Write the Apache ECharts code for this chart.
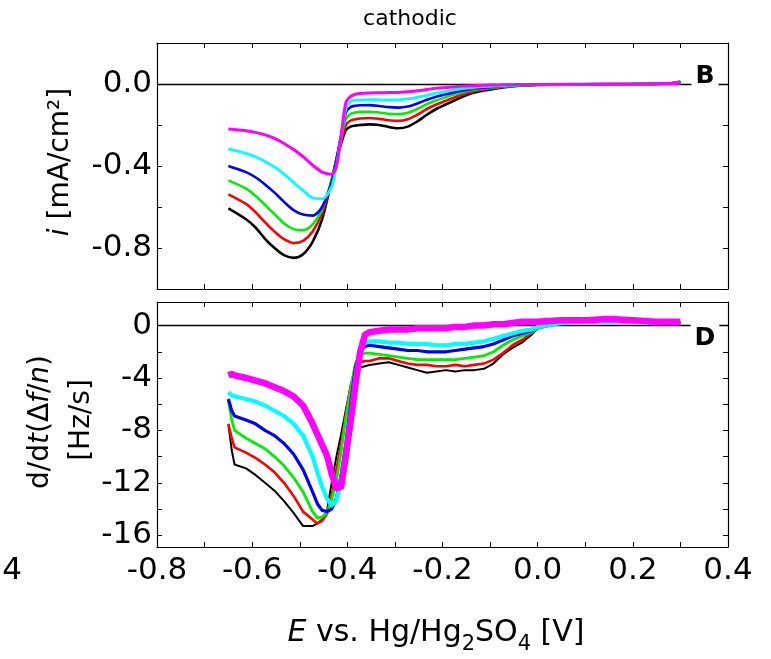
<!DOCTYPE html>
<html><head><meta charset="utf-8">
<script src="https://cdn.jsdelivr.net/npm/echarts@6/dist/echarts.min.js"></script>
<style>html,body{margin:0;padding:0;background:#fff}#c{width:771px;height:659px}</style>
</head><body><div id="c"></div>
<script>
// ---------- Top panel (i vs E) ----------
const E_TOP = [-0.65, -0.613, -0.593, -0.573, -0.553, -0.533, -0.513, -0.493, -0.473, -0.453, -0.433,
  -0.423, -0.413, -0.403, -0.393, -0.383, -0.373,
  -0.353, -0.333, -0.313, -0.293, -0.273, -0.253, -0.233, -0.213, -0.193, -0.173, -0.153, -0.133, -0.113, -0.093, -0.073,
  -0.045, 0.0, 0.1, 0.2, 0.28, 0.30];
const I_BLACK = [-0.607, -0.66, -0.70, -0.755, -0.80, -0.835, -0.848, -0.83, -0.77, -0.66, -0.47,
  -0.37, -0.29, -0.225, -0.208, -0.203, -0.200,
  -0.197, -0.200, -0.210, -0.216, -0.208, -0.183, -0.150, -0.122, -0.100, -0.078, -0.058, -0.042, -0.032, -0.024, -0.017,
  -0.010, -0.005, -0.002, 0.0, 0.004, 0.012];
const I_RED = [-0.538, -0.585, -0.625, -0.675, -0.72, -0.757, -0.776, -0.765, -0.72, -0.63, -0.47,
  -0.37, -0.28, -0.20, -0.178, -0.172, -0.168,
  -0.166, -0.170, -0.177, -0.180, -0.172, -0.150, -0.122, -0.100, -0.082, -0.063, -0.047, -0.035, -0.027, -0.020, -0.014,
  -0.008, -0.004, -0.002, 0.0, 0.004, 0.010];
const I_GREEN = [-0.47, -0.51, -0.545, -0.59, -0.635, -0.68, -0.708, -0.713, -0.685, -0.61, -0.47,
  -0.37, -0.26, -0.17, -0.145, -0.139, -0.136,
  -0.135, -0.139, -0.145, -0.147, -0.140, -0.122, -0.098, -0.080, -0.064, -0.049, -0.037, -0.028, -0.022, -0.017, -0.012,
  -0.007, -0.004, -0.002, 0.0, 0.003, 0.008];
const I_BLUE = [-0.40, -0.43, -0.455, -0.49, -0.53, -0.575, -0.615, -0.637, -0.642, -0.60, -0.48,
  -0.37, -0.25, -0.14, -0.112, -0.106, -0.104,
  -0.103, -0.107, -0.113, -0.115, -0.110, -0.095, -0.077, -0.062, -0.050, -0.039, -0.030, -0.023, -0.018, -0.014, -0.010,
  -0.006, -0.003, -0.001, 0.0, 0.003, 0.008];
const I_CYAN = [-0.316, -0.338, -0.355, -0.378, -0.405, -0.44, -0.48, -0.52, -0.555, -0.56, -0.50,
  -0.40, -0.26, -0.12, -0.085, -0.079, -0.077,
  -0.076, -0.077, -0.078, -0.077, -0.073, -0.065, -0.055, -0.045, -0.036, -0.028, -0.021, -0.016, -0.013, -0.010, -0.008,
  -0.005, -0.003, -0.001, 0.0, 0.003, 0.007];
const I_MAGENTA = [-0.22, -0.228, -0.236, -0.248, -0.265, -0.29, -0.32, -0.355, -0.395, -0.43, -0.44,
  -0.40, -0.25, -0.09, -0.060, -0.050, -0.046,
  -0.044, -0.043, -0.042, -0.041, -0.038, -0.033, -0.027, -0.021, -0.017, -0.013, -0.010, -0.008, -0.006, -0.005, -0.004,
  -0.003, -0.002, -0.001, 0.0, 0.002, 0.005];

// ---------- Bottom panel (d/dt(Δf/n) vs E) ----------
const E_BOT = [-0.65, -0.643, -0.637, -0.613, -0.593, -0.573, -0.553, -0.533, -0.513, -0.493, -0.473,
  -0.463, -0.453, -0.443, -0.433, -0.423, -0.413, -0.403, -0.393, -0.383, -0.373, -0.363, -0.353,
  -0.333, -0.313, -0.293, -0.273, -0.253, -0.233, -0.213, -0.193, -0.173, -0.153, -0.133, -0.113, -0.093, -0.073, -0.053, -0.033, -0.013, 0.0,
  0.05, 0.10, 0.15, 0.20, 0.25, 0.30];
const F_BLACK = [-7.5, -9.5, -10.6, -10.9, -11.4, -12.0, -12.6, -13.4, -14.3, -15.3, -15.3,
  -15.1, -14.8, -14.2, -12.0, -10.0, -8.3, -6.4, -4.6, -3.6, -3.2, -3.1, -3.0,
  -2.9, -2.8, -3.0, -3.2, -3.4, -3.6, -3.5, -3.4, -3.5, -3.4, -3.4, -3.3, -2.9, -2.2, -1.7, -1.3, -0.7, -0.2,
  0.2, 0.3, 0.3, 0.3, 0.2, 0.2];
const F_RED = [-7.5, -8.6, -9.3, -9.7, -10.1, -10.6, -11.2, -12.0, -13.0, -14.2, -14.8,
  -15.1, -14.9, -14.4, -13.0, -11.0, -9.0, -6.8, -4.6, -3.3, -2.8, -2.7, -2.7,
  -2.5, -2.5, -2.7, -2.9, -3.0, -3.0, -3.1, -3.1, -3.0, -3.1, -3.0, -2.9, -2.6, -2.1, -1.5, -1.1, -0.6, -0.2,
  0.2, 0.3, 0.3, 0.3, 0.2, 0.2];
const F_GREEN = [-5.7, -7.2, -8.0, -8.6, -9.0, -9.4, -10.0, -10.7, -11.6, -12.7, -14.2,
  -14.7, -14.6, -14.3, -13.3, -11.8, -9.6, -7.0, -4.8, -2.9, -2.3, -2.1, -2.1,
  -2.2, -2.3, -2.4, -2.5, -2.6, -2.6, -2.6, -2.6, -2.6, -2.5, -2.4, -2.3, -2.0, -1.5, -1.1, -0.8, -0.5, -0.2,
  0.2, 0.3, 0.3, 0.3, 0.2, 0.2];
const F_BLUE = [-5.6, -6.5, -6.9, -7.2, -7.5, -8.0, -8.4, -9.0, -9.8, -11.0, -12.7,
  -13.6, -14.1, -14.2, -14.0, -13.2, -11.4, -9.0, -6.0, -3.2, -1.9, -1.6, -1.5,
  -1.6, -1.7, -1.8, -1.9, -1.9, -2.0, -2.0, -2.0, -1.9, -1.8, -1.7, -1.6, -1.4, -1.1, -0.8, -0.6, -0.4, -0.1,
  0.2, 0.3, 0.3, 0.3, 0.2, 0.2];
const F_CYAN = [-5.1, -5.3, -5.4, -5.6, -5.8, -6.1, -6.5, -6.9, -7.5, -8.4, -10.0,
  -11.2, -12.3, -13.2, -13.7, -13.4, -11.8, -9.8, -7.2, -4.0, -1.7, -1.3, -1.2,
  -1.2, -1.3, -1.3, -1.4, -1.4, -1.4, -1.5, -1.5, -1.4, -1.4, -1.3, -1.2, -1.0, -0.8, -0.6, -0.4, -0.3, -0.1,
  0.2, 0.3, 0.3, 0.3, 0.2, 0.2];
const F_MAGENTA = [-3.8, -3.7, -3.8, -4.0, -4.2, -4.4, -4.7, -5.0, -5.4, -6.1, -7.5,
  -8.3, -9.1, -9.9, -11.3, -12.4, -12.3, -9.9, -7.3, -4.5, -2.0, -0.7, -0.5,
  -0.4, -0.3, -0.3, -0.3, -0.2, -0.2, -0.2, -0.2, -0.1, -0.1, 0.0, 0.0, 0.1, 0.1, 0.2, 0.3, 0.3, 0.3,
  0.4, 0.4, 0.5, 0.4, 0.3, 0.3];

// ---------- Axes / ticks ----------
const X_MIN = -0.8, X_MAX = 0.4, X_STEP = 0.2;
const TOP_MIN = -1.0, TOP_MAX = 0.2, TOP_STEP = 0.2;
const TOP_LABELS = [-0.8, -0.4, 0.0];
const BOT_MIN = -16.9, BOT_MAX = 1.8;
const BOT_TICKS = [-16, -14, -12, -10, -8, -6, -4, -2, 0];
const BOT_LABELS = [-16, -12, -8, -4, 0];
const COLORS = ['#000000', '#ff0000', '#00ee00', '#0000ff', '#00ffff', '#ff00ff'];

const FONT = 'DejaVu Sans';
const pairs = (xs, ys) => xs.map((x, i) => [x, ys[i]]);
const fmt1 = v => (Math.abs(v) < 1e-9 ? 0 : v).toFixed(1);

const axisLine = { show: true, onZero: false, lineStyle: { color: '#000', width: 1.2 } };
const tick = { show: true, inside: true, length: 5, lineStyle: { color: '#000', width: 1 } };
const minor = { show: true, splitNumber: 2, length: 5, lineStyle: { color: '#000', width: 1 } };

function xAxis(grid, pos, labels) {
  return {
    type: 'value', gridIndex: grid, position: pos, min: X_MIN, max: X_MAX, interval: X_STEP,
    axisLine, axisTick: tick, minorTick: minor, splitLine: { show: false },
    axisLabel: { show: labels, fontFamily: FONT, fontSize: 31, color: '#000', margin: 8, formatter: fmt1 }
  };
}

const topLabelFmt = v => TOP_LABELS.some(t => Math.abs(t - v) < 1e-6) ? fmt1(v) : '';

const option = {
  animation: false,
  backgroundColor: '#fff',
  grid: [
    { left: 157, right: 43, top: 43, height: 246 },
    { left: 157, right: 43, top: 302, height: 245 }
  ],
  xAxis: [xAxis(0, 'bottom', false), xAxis(0, 'top', false), xAxis(1, 'bottom', true), xAxis(1, 'top', false)],
  yAxis: [
    { type: 'value', gridIndex: 0, position: 'left', min: TOP_MIN, max: TOP_MAX, interval: TOP_STEP,
      axisLine, axisTick: tick, splitLine: { show: false },
      axisLabel: { fontFamily: FONT, fontSize: 31, color: '#000', margin: 5, formatter: topLabelFmt } },
    { type: 'value', gridIndex: 0, position: 'right', min: TOP_MIN, max: TOP_MAX, interval: TOP_STEP,
      axisLine, axisTick: tick, splitLine: { show: false }, axisLabel: { show: false } },
    { type: 'value', gridIndex: 1, position: 'left', min: BOT_MIN, max: BOT_MAX,
      axisLine, axisTick: Object.assign({}, tick, { customValues: BOT_TICKS }), splitLine: { show: false },
      axisLabel: { fontFamily: FONT, fontSize: 31, color: '#000', margin: 5, customValues: BOT_LABELS, formatter: v => String(Math.round(v)) } },
    { type: 'value', gridIndex: 1, position: 'right', min: BOT_MIN, max: BOT_MAX,
      axisLine, axisTick: Object.assign({}, tick, { customValues: BOT_TICKS }), splitLine: { show: false }, axisLabel: { show: false } }
  ],
  series: [],
  graphic: []
};

const zeroLine = {
  silent: true, symbol: ['none', 'none'], label: { show: false },
  lineStyle: { color: '#000', width: 1.3, type: 'solid' }, data: [{ yAxis: 0 }]
};

const TOP_SERIES = [I_BLACK, I_RED, I_GREEN, I_BLUE, I_CYAN, I_MAGENTA];
const TOP_W = [2.6, 2.6, 2.6, 2.6, 2.8, 3.0];
TOP_SERIES.forEach((ys, k) => {
  option.series.push({
    type: 'line', xAxisIndex: 0, yAxisIndex: 0, data: pairs(E_TOP, ys), showSymbol: false, symbol: 'none',
    smooth: 0.3, lineStyle: { color: COLORS[k], width: TOP_W[k] }, itemStyle: { color: COLORS[k] },
    markLine: k === 0 ? zeroLine : undefined, z: 2 + k
  });
});
const BOT_SERIES = [F_BLACK, F_RED, F_GREEN, F_BLUE, F_CYAN, F_MAGENTA];
const BOT_W = [2, 2.6, 2.8, 3.2, 4.2, 6.5];
BOT_SERIES.forEach((ys, k) => {
  option.series.push({
    type: 'line', xAxisIndex: 2, yAxisIndex: 2, data: pairs(E_BOT, ys), showSymbol: false, symbol: 'none',
    lineStyle: { color: COLORS[k], width: BOT_W[k], join: 'round' }, itemStyle: { color: COLORS[k] },
    markLine: k === 0 ? zeroLine : undefined, z: 2 + k
  });
});

option.graphic = [
  { type: 'text', x: 410, y: 19, z: 50,
    style: { text: 'cathodic', font: '22px "DejaVu Sans"', fill: '#000', textAlign: 'center', textVerticalAlign: 'middle' } },
  { type: 'text', x: 705, y: 76, z: 50,
    style: { text: 'B', font: 'bold 25px "DejaVu Sans"', fill: '#000', textAlign: 'center', textVerticalAlign: 'middle',
      backgroundColor: '#fff', padding: [2, 4, 2, 4] } },
  { type: 'text', x: 705, y: 338, z: 50,
    style: { text: 'D', font: 'bold 25px "DejaVu Sans"', fill: '#000', textAlign: 'center', textVerticalAlign: 'middle',
      backgroundColor: '#fff', padding: [10, 4, 2, 4] } },
  { type: 'text', x: 61, y: 162, rotation: Math.PI / 2, z: 50,
    style: { text: '{it|i} [mA/cm²]', font: '28px "DejaVu Sans"', fill: '#000', textAlign: 'center', textVerticalAlign: 'middle',
      rich: { it: { fontStyle: 'italic', fontSize: 28, fontFamily: FONT } } } },
  { type: 'text', x: 41, y: 422, rotation: Math.PI / 2, z: 50,
    style: { text: 'd/d{it|t}(Δ{it|f}/{it|n})', font: '28px "DejaVu Sans"', fill: '#000', textAlign: 'center', textVerticalAlign: 'middle',
      rich: { it: { fontStyle: 'italic', fontSize: 28, fontFamily: FONT } } } },
  { type: 'text', x: 82, y: 420, rotation: Math.PI / 2, z: 50,
    style: { text: '[Hz/s]', font: '28px "DejaVu Sans"', fill: '#000', textAlign: 'center', textVerticalAlign: 'middle' } },
  { type: 'text', x: 436, y: 633, z: 50,
    style: { text: '{it|E} vs. Hg/Hg{s|2}SO{s|4} [V]', font: '30px "DejaVu Sans"', fill: '#000', textAlign: 'center', textVerticalAlign: 'middle',
      rich: {
        it: { fontStyle: 'italic', fontSize: 30, fontFamily: FONT, lineHeight: 44, verticalAlign: 'middle' },
        s: { fontSize: 21, fontFamily: FONT, lineHeight: 22, verticalAlign: 'bottom' }
      } } },
  { type: 'text', x: 12, y: 571, z: 50,
    style: { text: '4', font: '31px "DejaVu Sans"', fill: '#000', textAlign: 'center', textVerticalAlign: 'middle' } }
];

const chart = echarts.init(document.getElementById('c'), null, { renderer: 'canvas' });
chart.setOption(option);
</script>
</body></html>
